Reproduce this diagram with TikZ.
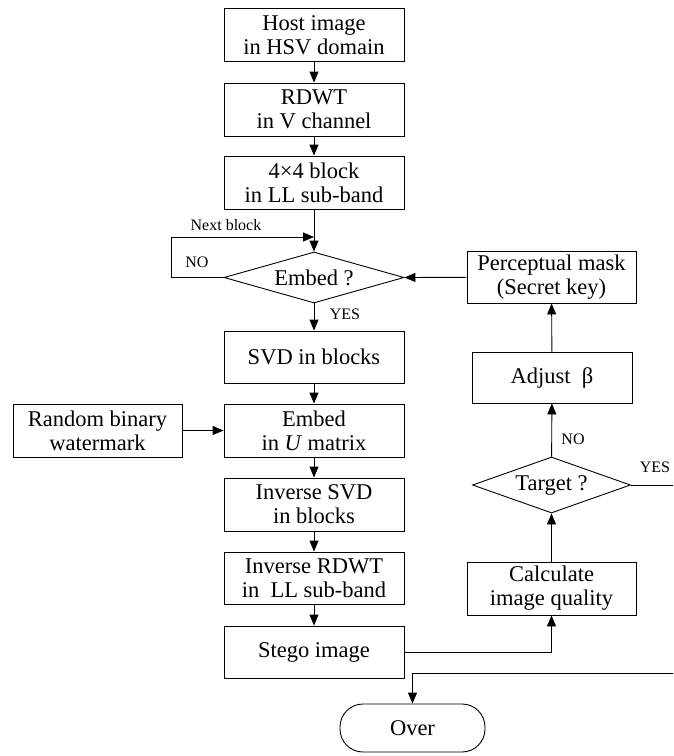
\documentclass[tikz,border=0pt]{standalone}
\usepackage{fontspec}
\setmainfont{Liberation Serif}
\usetikzlibrary{shapes.geometric,arrows.meta}

\begin{document}
\begin{tikzpicture}[x=1pt,y=-1pt,
  line width=0.9pt,
  every node/.style={font=\fontsize{22.5}{24}\selectfont, align=center, inner sep=0pt},
  box/.style={draw, rectangle, minimum width=180pt, minimum height=53pt},
  sidebox/.style={draw, rectangle, minimum width=169pt, minimum height=53pt},
  decision/.style={draw, diamond, aspect=3.5},
  terminal/.style={draw, rectangle, rounded corners=23pt, minimum width=145pt, minimum height=48pt},
  lbl/.style={font=\fontsize{16}{18}\selectfont},
  arr/.style={-{Triangle[length=11pt,width=9pt]}}
]
\useasboundingbox (0,0) rectangle (673,756);

% main column
\node[box] (host) at (314,35) {Host image\\in HSV domain};
\node[box] (rdwt) at (314,109.5) {RDWT\\in V channel};
\node[box] (blk) at (314,182.5) {4×4 block\\in LL sub-band};
\node[decision, minimum width=180pt, minimum height=51pt] (emb) at (314,277.5) {Embed ?};
\node[box, minimum height=52pt] (svd) at (314,357) {SVD in blocks};
\node[box] (embu) at (314,430.5) {Embed\\in \textit{U} matrix};
\node[box] (isvd) at (314,504.5) {Inverse SVD\\in blocks};
\node[box, minimum height=52pt] (irdwt) at (314,578) {Inverse RDWT\\in~~LL sub-band};
\node[box, minimum height=52pt] (stego) at (314,652) {Stego image};
\node[terminal] (over) at (412.5,728) {Over};

% watermark source
\node[sidebox] (rand) at (97.5,430.5) {Random binary\\watermark};

% right column
\node[sidebox, minimum height=52pt] (mask) at (551.5,277) {Perceptual mask\\(Secret key)};
\node[draw, rectangle, minimum width=160pt, minimum height=51pt] (adj) at (552,377.5) {Adjust~~β};
\node[decision, aspect=2.8, minimum width=158pt, minimum height=56pt] (tgt) at (551.5,485) {Target ?};
\node[sidebox] (calc) at (551.5,588.5) {Calculate\\image quality};

% free ends and bends
\coordinate (loopc) at (171,237);
\coordinate (looptop) at (314,237);
\coordinate (yesend) at (673,485);
\coordinate (overfeed) at (673,673);

% main flow
\draw[arr] (host) -- (rdwt);
\draw[arr] (rdwt) -- (blk);
\draw[arr] (blk) -- (emb);
\draw[arr] (emb.west) -| (loopc) -- (looptop);
\draw[arr] (emb) -- (svd);
\draw[arr] (svd) -- (embu);
\draw[arr] (rand) -- (embu);
\draw[arr] (embu) -- (isvd);
\draw[arr] (isvd) -- (irdwt);
\draw[arr] (irdwt) -- (stego);

% quality loop
\draw[arr] (stego.east) -| (calc.south);
\draw[arr] (calc) -- (tgt);
\draw[arr] (tgt) -- (adj);
\draw[arr] (adj) -- (mask);
\draw[arr] (mask) -- (emb.east);
\draw (tgt.east) -- (yesend);
\draw[arr] (overfeed) -| (over.north);

% branch labels
\node[lbl] (nextlbl) at (226,225) {Next block};
\node[lbl] (nolbl) at (197,262) {NO};
\node[lbl] (yeslbl) at (345,314) {YES};
\node[lbl] (tnolbl) at (573,439) {NO};
\node[lbl] (tyeslbl) at (655,467) {YES};
\end{tikzpicture}
\end{document}
